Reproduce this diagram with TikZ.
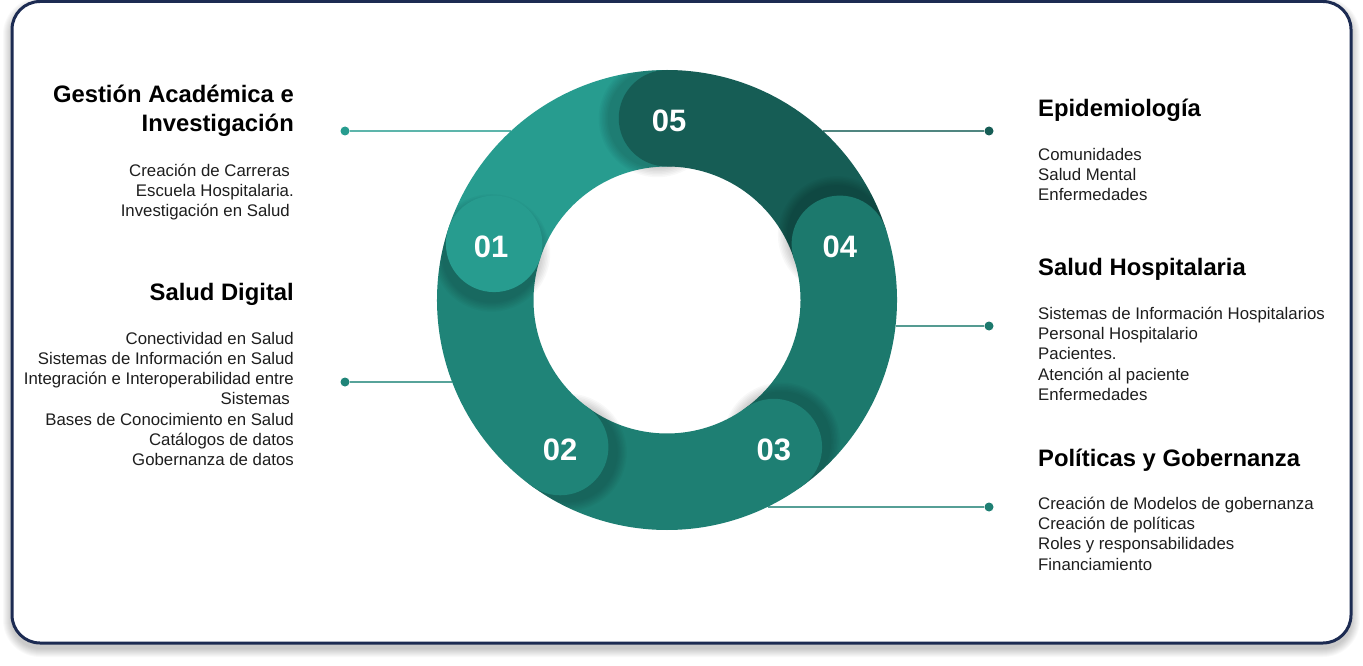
\documentclass[tikz,border=0pt]{standalone}
\usepackage{fontspec}
\setmainfont{Liberation Sans}
\definecolor{cA}{HTML}{279C8F}
\definecolor{cB}{HTML}{1F8478}
\definecolor{cC}{HTML}{1E7F73}
\definecolor{cD}{HTML}{1C796D}
\definecolor{cE}{HTML}{165D55}
\definecolor{navy}{HTML}{1C2B52}
\definecolor{txt}{HTML}{1E1E1E}
\newcommand\Ro{230}
\newcommand\Ri{133.5}
\newcommand\Rm{181.75}
\newcommand\Rc{48.25}
\newcommand\ringband[2]{\fill[#2, shift={(C)}] (#1:\Ro) arc[start angle=#1, end angle={#1+72}, radius=\Ro] -- ({#1+72}:\Ri) arc[start angle={#1+72}, end angle=#1, radius=\Ri] -- cycle;}
\newcommand\capshade[1]{\begin{scope}\clip (C) circle[radius=\Ro];\foreach \k in {1,...,7} {\fill[black, opacity=0.028, shift={(C)}] ({#1-3}:\Rm) circle[radius={\Rc+\k*1.5}];}\end{scope}}
\newcommand\capdisk[2]{\fill[#2, shift={(C)}] (#1:\Rm) circle[radius=\Rc];}
\tikzset{
  body/.style={font=\fontsize{16.8}{20}\selectfont, text=txt, inner sep=0pt},
  head/.style={font=\fontsize{23.8}{29}\selectfont\bfseries, text=black, inner sep=0pt},
  num/.style={font=\fontsize{31}{31}\selectfont\bfseries, text=white, inner sep=0pt, yshift=-2.5pt},
  dot/.style={circle, inner sep=0pt, minimum size=9pt},
  conn/.style={line width=1.3pt},
}
\begin{document}
\begin{tikzpicture}[x=1pt,y=-1pt]
\useasboundingbox (0,0) rectangle (1363,666);
\fill[white] (0,0) rectangle (1363,666);
% frame shadow
\foreach \k in {1,...,9} {
  \fill[black, opacity=0.022, rounded corners={28+\k}] ({12-\k},{1.5+5-\k}) rectangle ({1351+\k},{643+5+\k});
}
\draw[navy, line width=3pt, fill=white, rounded corners=28] (12,1.5) rectangle (1351,643);

\coordinate (C) at (667,300);
% connectors (behind the ring)
\coordinate (e1) at (511,131);
\coordinate (e2) at (452,382);
\coordinate (e5) at (823,131);
\coordinate (e4) at (896,326);
\coordinate (e3) at (768,507);
\node[dot, fill=cA] (d1) at (345,131) {};
\node[dot, fill=cB] (d2) at (345,382) {};
\node[dot, fill=cE] (d5) at (989,131) {};
\node[dot, fill=cD] (d4) at (989,326) {};
\node[dot, fill=cC] (d3) at (989,507) {};
\draw[conn, cA!75] (d1) -- (e1);
\draw[conn, cB!75] (d2) -- (e2);
\draw[conn, cE!75] (d5) -- (e5);
\draw[conn, cD!75] (d4) -- (e4);
\draw[conn, cC!75] (d3) -- (e3);

% ring
\ringband{198}{cA}
\capshade{270}\ringband{270}{cE}\capdisk{270}{cE}
\capshade{342}\ringband{342}{cD}\capdisk{342}{cD}
\capshade{54}\ringband{54}{cC}\capdisk{54}{cC}
\capshade{126}\ringband{126}{cB}\capdisk{126}{cB}
\capshade{198}\capdisk{198}{cA}

\node[num, xshift=-3pt] (n1) at ([shift={(198:\Rm)}]C) {01};
\node[num] (n2) at ([shift={(126:\Rm)}]C) {02};
\node[num] (n3) at ([shift={(54:\Rm)}]C) {03};
\node[num] (n4) at ([shift={(342:\Rm)}]C) {04};
\node[num, xshift=2pt] (n5) at ([shift={(270:\Rm)}]C) {05};

% left texts
\node[head, anchor=base east] (h1a) at (294,102.5) {Gestión Académica e};
\node[head, anchor=base east] (h1b) at (294,131.5) {Investigación};
\foreach \t [count=\i] in {Creación de Carreras\hspace*{4pt}, Escuela Hospitalaria., Investigación en Salud\hspace*{4pt}}
  \node[body, anchor=base east] (ga\i) at (294,{176+20.3*(\i-1)}) {\t};
\node[head, anchor=base east] (h2) at (294,300.5) {Salud Digital};
\foreach \t [count=\i] in {Conectividad en Salud, Sistemas de Información en Salud, Integración e Interoperabilidad entre, Sistemas\hspace*{4pt}, Bases de Conocimiento en Salud, Catálogos de datos, Gobernanza de datos}
  \node[body, anchor=base east] (sd\i) at (294,{344+20.3*(\i-1)}) {\t};

% right texts
\node[head, anchor=base west] (h5) at (1038,117) {Epidemiología};
\foreach \t [count=\i] in {Comunidades, Salud Mental, Enfermedades}
  \node[body, anchor=base west] (ep\i) at (1038,{160.3+20.3*(\i-1)}) {\t};
\node[head, anchor=base west] (h4) at (1038,275) {Salud Hospitalaria};
\foreach \t [count=\i] in {Sistemas de Información Hospitalarios, Personal Hospitalario, Pacientes., Atención al paciente, Enfermedades}
  \node[body, anchor=base west] (sh\i) at (1038,{319.3+20.3*(\i-1)}) {\t};
\node[head, anchor=base west] (h3) at (1038,466) {Políticas y Gobernanza};
\foreach \t [count=\i] in {Creación de Modelos de gobernanza, Creación de políticas, Roles y responsabilidades, Financiamiento}
  \node[body, anchor=base west] (pg\i) at (1038,{509.3+20.3*(\i-1)}) {\t};
\end{tikzpicture}
\end{document}
